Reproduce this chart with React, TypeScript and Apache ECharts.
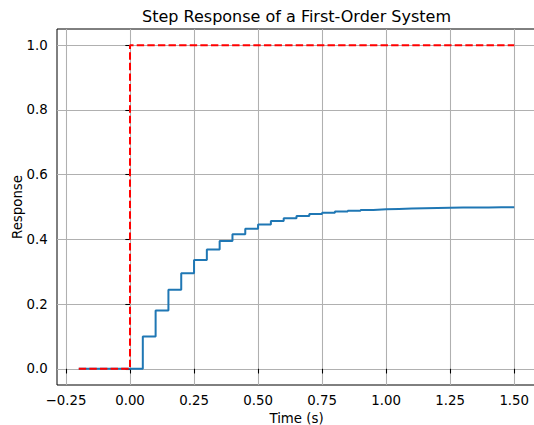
import React, { useEffect, useRef } from "react";
import * as echarts from "echarts";

const times = [
  -0.2, -0.15, -0.1, -0.05, 0, 0.05, 0.1, 0.15, 0.2, 0.25, 0.3, 0.35, 0.4, 0.45,
  0.5, 0.55, 0.6, 0.65, 0.7, 0.75, 0.8, 0.85, 0.9, 0.95, 1.0, 1.05, 1.1, 1.15,
  1.2, 1.25, 1.3, 1.35, 1.4, 1.45, 1.5,
];
const response = [
  0, 0, 0, 0, 0, 0.1, 0.18, 0.244, 0.2952, 0.3362, 0.3689, 0.3951, 0.4161,
  0.4329, 0.4463, 0.457, 0.4656, 0.4725, 0.478, 0.4824, 0.4859, 0.4887, 0.491,
  0.4928, 0.4942, 0.4954, 0.4963, 0.497, 0.4976, 0.4981, 0.4985, 0.4988, 0.499,
  0.4992, 0.4994,
];
const inputStep = [
  0, 0, 0, 0, 1, 1, 1, 1, 1, 1, 1, 1, 1, 1, 1, 1, 1, 1, 1, 1, 1, 1, 1, 1, 1, 1,
  1, 1, 1, 1, 1, 1, 1, 1, 1,
];
const xTicks = [-0.25, 0, 0.25, 0.5, 0.75, 1.0, 1.25, 1.5];
const yTicks = [0, 0.2, 0.4, 0.6, 0.8, 1.0];

const FONT = "DejaVu Sans";

export default function App() {
  const ref = useRef<HTMLDivElement>(null);
  useEffect(() => {
    if (!ref.current) return;
    const chart = echarts.init(ref.current, undefined, { renderer: "svg" });
    const respData = times.map((t, i) => [t, response[i]]);
    const inData = times.map((t, i) => [t, inputStep[i]]);
    chart.setOption({
      animation: false,
      backgroundColor: "#ffffff",
      textStyle: { fontFamily: FONT },
      graphic: [
        {
          type: "text",
          x: 296.5,
          y: 16,
          style: {
            text: "Step Response of a First-Order System",
            textAlign: "center",
            textVerticalAlign: "middle",
            fontSize: 16,
            fontFamily: FONT,
            fill: "#000",
          },
        },
      ],
      grid: {
        left: 57,
        right: -2,
        top: 29,
        bottom: 40,
        containLabel: false,
        outerBoundsMode: "none",
        show: true,
        borderColor: "#000",
        borderWidth: 1,
        backgroundColor: "transparent",
      },
      xAxis: {
        type: "value",
        min: -0.285,
        max: 1.585,
        name: "Time (s)",
        nameLocation: "middle",
        nameGap: 26,
        nameTextStyle: { fontSize: 13.33, color: "#000", fontFamily: FONT },
        axisLine: { show: false },
        axisTick: {
          show: true,
          length: 4.67,
          customValues: xTicks,
          lineStyle: { color: "#000", width: 1.07 },
        },
        axisLabel: {
          customValues: xTicks,
          fontSize: 13.33,
          color: "#000",
          fontFamily: FONT,
          margin: 9,
          formatter: (v: number) => v.toFixed(2).replace("-", "\u2212"),
        },
        splitLine: {
          show: true,
          lineStyle: { color: "#b0b0b0", width: 1.07 },
        },
      },
      yAxis: {
        type: "value",
        min: -0.05,
        max: 1.05,
        name: "Response",
        nameLocation: "middle",
        nameGap: 33,
        nameRotate: 90,
        nameMoveOverlap: false,
        nameTextStyle: { fontSize: 13.33, color: "#000", fontFamily: FONT },
        axisLine: { show: false },
        axisTick: {
          show: true,
          length: 4.67,
          customValues: yTicks,
          lineStyle: { color: "#000", width: 1.07 },
        },
        axisLabel: {
          customValues: yTicks,
          fontSize: 13.33,
          color: "#000",
          fontFamily: FONT,
          margin: 9.3,
          formatter: (v: number) => v.toFixed(1),
        },
        splitLine: {
          show: true,
          lineStyle: { color: "#b0b0b0", width: 1.07 },
        },
      },
      series: [
        {
          type: "line",
          data: respData,
          step: "end",
          showSymbol: false,
          symbol: "none",
          lineStyle: { color: "#1f77b4", width: 2 },
          z: 3,
        },
        {
          type: "line",
          data: inData,
          step: "end",
          showSymbol: false,
          symbol: "none",
          lineStyle: { color: "#ff0000", width: 2, type: [7.4, 3.2] },
          z: 4,
        },
      ],
    });
    return () => chart.dispose();
  }, []);
  return (
    <div
      ref={ref}
      style={{ position: "fixed", left: 0, top: 0, width: 534, height: 425 }}
    />
  );
}
